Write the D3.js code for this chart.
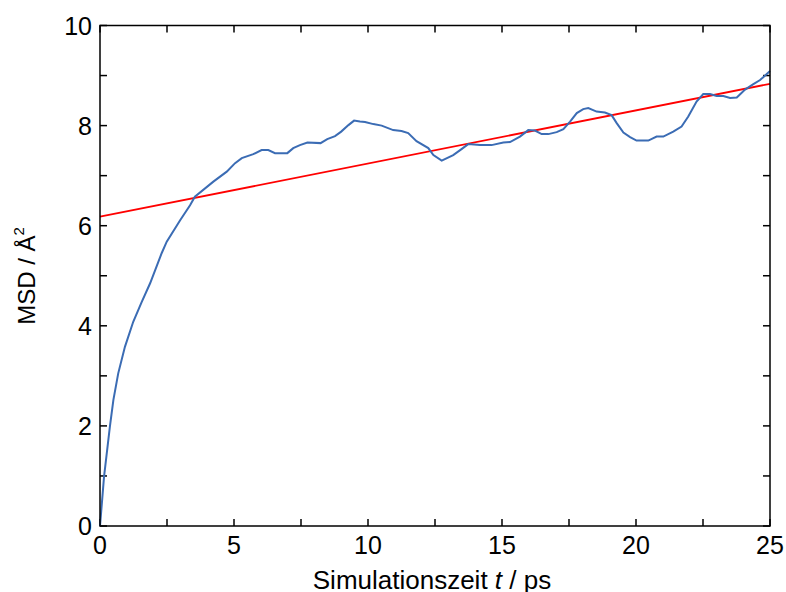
<!DOCTYPE html>
<html><head><meta charset="utf-8">
<script src="https://cdn.jsdelivr.net/npm/d3@7"></script>
<style>body{margin:0;background:#fff}svg{display:block}text{font-family:"Liberation Sans",Arial,sans-serif;fill:#000}</style>
</head><body><svg id="c" width="786" height="592"></svg>
<script>
const msdT = [0,0.15,0.37,0.5,0.68,0.93,1.24,1.55,1.87,2.3,2.49,2.99,3.36,3.54,4.23,4.73,5.04,5.29,5.72,6.03,6.28,6.53,6.99,7.21,7.46,7.74,8.23,8.48,8.77,9.0,9.27,9.48,9.7,9.89,10.2,10.51,10.94,11.25,11.5,11.81,12.25,12.44,12.75,13.18,13.49,13.74,14.18,14.61,15.05,15.3,15.67,15.98,16.23,16.48,16.73,17.04,17.29,17.54,17.79,18.03,18.22,18.53,18.84,19.09,19.28,19.53,19.78,20.02,20.46,20.77,21.02,21.39,21.7,21.95,22.26,22.51,22.76,23.01,23.26,23.51,23.76,24.07,24.38,24.63,25];
const msdV = [0,0.98,1.99,2.52,3.05,3.58,4.08,4.47,4.85,5.45,5.68,6.11,6.41,6.58,6.88,7.08,7.25,7.35,7.43,7.51,7.51,7.45,7.45,7.55,7.61,7.66,7.65,7.73,7.79,7.88,8.01,8.10,8.08,8.07,8.03,8.0,7.91,7.89,7.85,7.69,7.55,7.41,7.30,7.41,7.53,7.63,7.61,7.61,7.66,7.67,7.78,7.91,7.90,7.83,7.83,7.87,7.93,8.08,8.25,8.33,8.35,8.28,8.26,8.21,8.05,7.86,7.77,7.70,7.70,7.78,7.78,7.88,7.98,8.18,8.48,8.63,8.63,8.59,8.59,8.55,8.56,8.72,8.83,8.91,9.09];
const fitIntercept = 6.18, fitSlope = 0.1062;
const xTickLabels = [0,5,10,15,20,25];
const yTickLabels = [0,2,4,6,8,10];
const xMinorTicks = d3.range(0,25.01,2.5);
const yMinorTicks = d3.range(0,10.01,1);

const svg = d3.select("#c");
const L=100,R=770,T=25.5,B=526;
const x = d3.scaleLinear().domain([0,25]).range([L,R]);
const y = d3.scaleLinear().domain([0,10]).range([B,T]);
const tl = 7;
const g = svg.append("g");
xMinorTicks.forEach(v=>{
  g.append("line").attr("x1",x(v)).attr("x2",x(v)).attr("y1",B).attr("y2",B-tl).attr("stroke","#000").attr("stroke-width",1.5);
  g.append("line").attr("x1",x(v)).attr("x2",x(v)).attr("y1",T).attr("y2",T+tl).attr("stroke","#000").attr("stroke-width",1.5);
});
yMinorTicks.forEach(v=>{
  g.append("line").attr("y1",y(v)).attr("y2",y(v)).attr("x1",L).attr("x2",L+tl).attr("stroke","#000").attr("stroke-width",1.5);
  g.append("line").attr("y1",y(v)).attr("y2",y(v)).attr("x1",R).attr("x2",R-tl).attr("stroke","#000").attr("stroke-width",1.5);
});
xTickLabels.forEach(v=>{
  g.append("text").attr("x",x(v)).attr("y",554).attr("text-anchor","middle").attr("font-size",25).text(v);
});
yTickLabels.forEach(v=>{
  g.append("text").attr("x",92).attr("y",y(v)+9).attr("text-anchor","end").attr("font-size",25).text(v);
});
const line = d3.line().x(d=>x(d[0])).y(d=>y(d[1]));
svg.append("path").datum([[0,fitIntercept],[25,fitIntercept+fitSlope*25]]).attr("d",line).attr("fill","none").attr("stroke","#ff0000").attr("stroke-width",1.8);
svg.append("path").datum(msdT.map((t,i)=>[t,msdV[i]])).attr("d",line).attr("fill","none").attr("stroke","#3b6cb4").attr("stroke-width",2);
svg.append("rect").attr("x",L).attr("y",T).attr("width",R-L).attr("height",B-T).attr("fill","none").attr("stroke","#000").attr("stroke-width",1.5);
const xt = svg.append("text").attr("x",432).attr("y",589).attr("text-anchor","middle").attr("font-size",26);
xt.append("tspan").text("Simulationszeit ");
xt.append("tspan").attr("font-style","italic").text("t");
xt.append("tspan").text(" / ps");
const yt = svg.append("text").attr("transform","translate(35,276) rotate(-90)").attr("text-anchor","middle").attr("font-size",24);
yt.append("tspan").text("MSD / Å");
yt.append("tspan").attr("font-size",15).attr("dy",-11).text("2");
</script></body></html>
